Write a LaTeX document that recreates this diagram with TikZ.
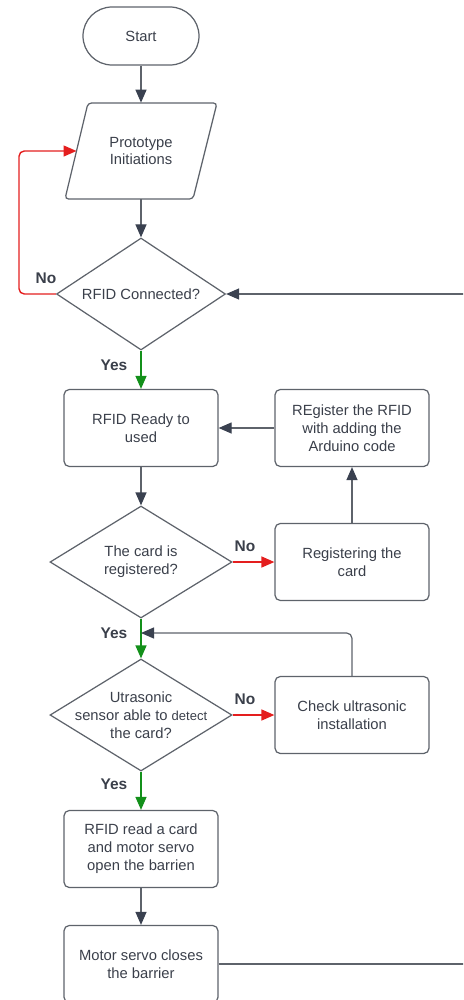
\documentclass[tikz,border=0pt]{standalone}
\usepackage{fontspec}
\setmainfont{Liberation Sans}
\usepackage{tikz}
\usetikzlibrary{arrows.meta,shapes.geometric}
\definecolor{linegray}{HTML}{5E636B}
\definecolor{headgray}{HTML}{3A4150}
\definecolor{txtgray}{HTML}{3A3F4A}
\definecolor{nored}{HTML}{E41E1E}
\definecolor{yesgreen}{HTML}{13901A}
\tikzstyle{term} = [draw=linegray, line width=0.7pt, rounded corners=0.58cm, minimum width=2.32cm, minimum height=1.16cm]
\tikzstyle{io} = [minimum width=3.04cm, minimum height=1.92cm, align=center, inner sep=0pt]
\tikzstyle{proc} = [draw=linegray, line width=0.7pt, rounded corners=3pt, minimum width=3.08cm, minimum height=1.54cm, align=center]
\tikzstyle{decide} = [diamond, draw=linegray, line width=0.7pt, aspect=1.6, inner sep=0pt, minimum width=3.64cm, minimum height=2.24cm, align=center]
\tikzstyle{flow} = [draw=linegray, line width=0.7pt, -{Triangle[length=2.6mm,width=2.2mm,color=headgray]}]
\tikzstyle{noflow} = [draw=nored, line width=0.8pt, -{Triangle[length=2.6mm,width=2.2mm]}]
\tikzstyle{yesflow} = [draw=yesgreen, line width=0.8pt, -{Triangle[length=2.6mm,width=2.2mm]}]
\tikzstyle{tag} = [font=\bfseries\fontsize{8.8}{10}\selectfont, text=txtgray]

\begin{document}
\begin{tikzpicture}[font=\fontsize{8.4}{10.2}\selectfont, text=txtgray]

    \path[use as bounding box, clip] (0,0) rectangle (9.26,-20);

    %start and setup
    \node[term] at (2.82,-0.72) (start) {Start};
    \node[io] at (2.82,-3.02) (proto) {Prototype\\Initiations};
    \draw[draw=linegray, line width=0.7pt, rounded corners=2pt]
      (1.76,-2.06) -- (4.34,-2.06) -- (3.86,-3.98) -- (1.30,-3.98) -- cycle;
    \coordinate (protoleft) at (1.53,-3.02);
    \node[decide, minimum width=3.38cm] at (2.82,-5.88) (conn) {RFID Connected?};
    \draw[flow] (start) -- (proto);
    \draw[flow] (proto) -- (conn);
    \draw[noflow, rounded corners=3pt] (conn.west) -- (0.38,-5.88) |- (protoleft);
    \node[tag] at (0.92,-5.56) {No};

    %registration
    \node[proc] at (2.82,-8.56) (ready) {RFID Ready to\\used};
    \node[proc] at (7.04,-8.56) (addcode) {REgister the RFID\\with adding the\\Arduino code};
    \node[decide] at (2.82,-11.24) (card) {The card is\\registered?};
    \node[proc] at (7.04,-11.24) (regcard) {Registering the\\card};
    \draw[yesflow] (conn) -- (ready);
    \node[tag] at (2.28,-7.30) {Yes};
    \draw[flow] (addcode) -- (ready);
    \draw[flow] (ready) -- (card);
    \draw[noflow] (card) -- (regcard);
    \node[tag] at (4.90,-10.92) {No};
    \draw[flow] (regcard) -- (addcode);

    %ultrasonic check
    \node[decide, label={[align=center]center:Utrasonic\\sensor able to {\fontsize{7.4}{10.2}\selectfont detect}\\the card?}] at (2.82,-14.30) (ultra) {};
    \node[proc] at (7.04,-14.30) (check) {Check ultrasonic\\installation};
    \coordinate (join) at (2.82,-12.66);
    \draw[yesflow] (card) -- (ultra);
    \node[tag] at (2.28,-12.66) {Yes};
    \draw[noflow] (ultra) -- (check);
    \node[tag] at (4.90,-13.98) {No};
    \draw[flow, rounded corners=3pt] (check.north) |- (join);

    %barrier
    \node[proc] at (2.82,-16.98) (openbar) {RFID read a card\\and motor servo\\open the barrien};
    \node[proc] at (2.82,-19.28) (closebar) {Motor servo closes\\the barrier};
    \draw[yesflow] (ultra) -- (openbar);
    \node[tag] at (2.28,-15.68) {Yes};
    \draw[flow] (openbar) -- (closebar);
    \draw[flow] (closebar.east) -- (9.6,-19.28) -- (9.6,-5.88) -- (conn.east);

  \end{tikzpicture}
\end{document}
